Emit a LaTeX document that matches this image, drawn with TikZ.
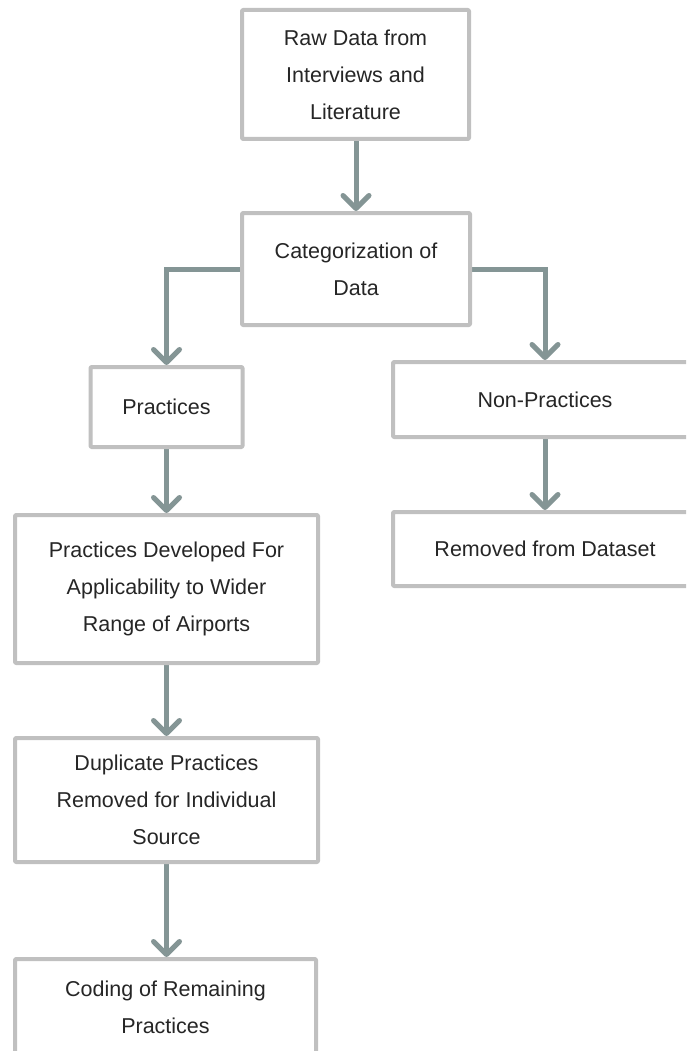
\documentclass[tikz,border=0pt]{standalone}
\usepackage{fontspec}
\setmainfont{Liberation Sans}
\usetikzlibrary{arrows.meta,backgrounds}
\definecolor{boxgray}{RGB}{192,192,192}
\definecolor{flowgray}{RGB}{132,149,149}
\definecolor{textgray}{RGB}{38,38,38}
\tikzset{
  stagebox/.style={draw=boxgray,line width=4pt,fill=white,rounded corners=1pt,
    align=center,text=textgray,font=\fontsize{21.5}{37}\selectfont,inner sep=0pt},
  flow/.style={draw=flowgray,line width=5pt,
    -{Straight Barb[length=13pt,width=26pt,round]}}
}

\begin{document}
\begin{tikzpicture}[x=1pt,y=-1pt,line join=round]
 \clip (0,0) rectangle (686,1051);
 % main column
 \node[stagebox,minimum width=227pt,minimum height=129pt] (raw) at (355.5,74.5)
  {Raw Data from\\Interviews and\\Literature};
 \node[stagebox,minimum width=228pt,minimum height=112pt] (categ) at (356,269)
  {Categorization of\\Data};
 \node[stagebox,minimum width=152pt,minimum height=80pt] (prac) at (166.5,407)
  {Practices};
 \node[stagebox,minimum width=303pt,minimum height=148pt] (wider) at (166.5,589)
  {Practices Developed For\\Applicability to Wider\\Range of Airports};
 \node[stagebox,minimum width=303pt,minimum height=124pt] (dupl) at (166.5,800)
  {Duplicate Practices\\Removed for Individual\\Source};
 \node[stagebox,minimum width=301pt,minimum height=96pt] (coding) at (165.5,1007)
  {Coding of Remaining\\Practices};
 % right branch
 \node[stagebox,minimum width=304pt,minimum height=75pt] (nonprac) at (545,399.5)
  {Non-Practices};
 \node[stagebox,minimum width=304pt,minimum height=74pt] (removed) at (545,549)
  {Removed from Dataset};
 \begin{scope}[on background layer]
  \fill[white] (0,0) rectangle (686,1051);
  \draw[flow] (raw.south -| categ.north) -- (categ.north);
  \draw[flow] (categ.west) -| (prac.north);
  \draw[flow] (categ.east) -| (nonprac.north);
  \draw[flow] (nonprac.south) -- (removed.north);
  \draw[flow] (prac.south) -- (wider.north);
  \draw[flow] (wider.south) -- (dupl.north);
  \draw[flow] (dupl.south) -- (dupl.south |- coding.north);
 \end{scope}
\end{tikzpicture}
\end{document}
